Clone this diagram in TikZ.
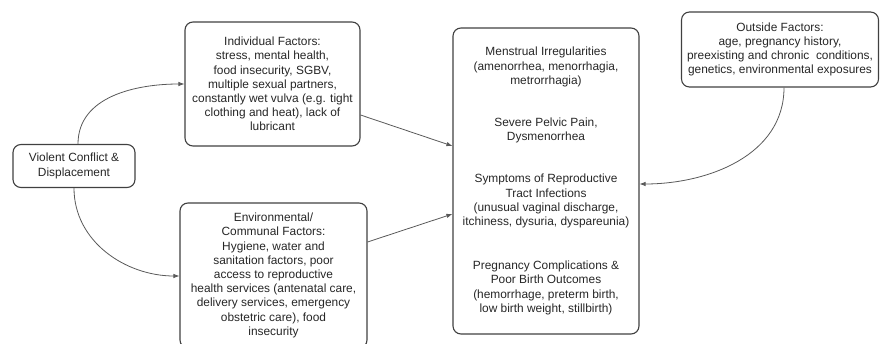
\documentclass[tikz,border=0pt]{standalone}
\usepackage{fontspec}
\setmainfont{Liberation Sans}
\usetikzlibrary{positioning,arrows.meta}

\tikzset{
  factor/.style={draw=black!75, line width=1.1pt, rounded corners=8pt, align=center,
    font=\fontsize{11.9}{14.2}\selectfont, text=black!85, inner sep=2pt},
  link/.style={draw=black!65, line width=0.8pt, -{Latex[length=6pt,width=4.5pt]}}
}

\begin{document}
\begin{tikzpicture}[x=1pt,y=-1pt]
\useasboundingbox (0,0) rectangle (882,344);
\node[factor, minimum width=122pt, minimum height=43pt] (violent) at (74,166) {Violent Conflict \&\\Displacement};
\node[factor, minimum width=175pt, minimum height=124pt] (indiv) at (272.5,84) {Individual Factors:\\stress, mental health,\\food insecurity, SGBV,\\multiple sexual partners,\\constantly wet vulva (e.g. tight\\clothing and heat), lack of\\lubricant};
\node[factor, minimum width=187pt, minimum height=145pt] (env) at (273.5,275.5) {Environmental/\\Communal Factors:\\Hygiene, water and\\sanitation factors, poor\\access to reproductive\\health services (antenatal care,\\delivery services, emergency\\obstetric care), food\\insecurity};
\node[factor, minimum width=186pt, minimum height=306pt] (outcome) at (546,181) {Menstrual Irregularities\\(amenorrhea, menorrhagia,\\metrorrhagia)\\[28pt]Severe Pelvic Pain,\\Dysmenorrhea\\[28pt]Symptoms of Reproductive\\Tract Infections\\(unusual vaginal discharge,\\itchiness, dysuria, dyspareunia)\\[30pt]Pregnancy Complications \&\\Poor Birth Outcomes\\(hemorrhage, preterm birth,\\low birth weight, stillbirth)};
\node[factor, minimum width=197pt, minimum height=75pt] (outside) at (780,49.5) {Outside Factors:\\age, pregnancy history,\\preexisting and chronic\ \ conditions,\\genetics, environmental exposures};
% connectors
\draw[link] ([xshift=4pt]violent.north) to[out=90,in=180] (indiv.west);
\draw[link] (violent.south) to[out=-90,in=180] ([yshift=-0.5pt]env.west);
\draw[link] ([yshift=-31pt]indiv.east) -- ([yshift=35pt]outcome.west);
\draw[link] ([yshift=33.5pt]env.east) -- ([yshift=-33pt]outcome.west);
\draw[link] ([xshift=4pt]outside.south) to[out=-90,in=0] ([yshift=-3pt]outcome.east);
\end{tikzpicture}
\end{document}
